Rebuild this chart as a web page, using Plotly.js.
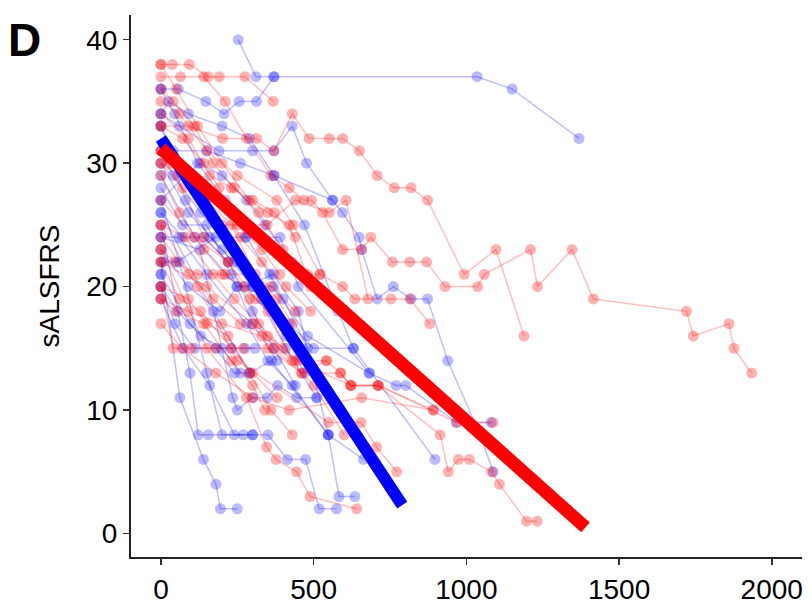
<!DOCTYPE html>
<html>
<head>
<meta charset="utf-8">
<script src="https://cdn.plot.ly/plotly-3.0.1.min.js"></script>
<style>
  body { margin: 0; background: #fff; }
  #plot { width: 812px; height: 607px; }
</style>
</head>
<body>
<div id="plot"></div>
<script>
// each track = one patient, [day, sALSFRS] pairs
var blueTracks = [
    [[253,40],[311,37],[370,37],[1035,37],[1150,36],[1369,32]],
    [[0,36],[57,36],[147,35],[207,34],[256,35],[313,35],[370,37]],
    [[0,34],[60,33],[190,31],[300,31],[370,31],[430,33],[477,30],[562,27],[594,26],[649,24],[657,23],[708,19],[761,20],[819,19],[873,19],[939,14],[1045,8],[1088,5]],
    [[0,33],[40,31],[150,31],[260,30],[370,29],[562,27]],
    [[0,30],[90,26],[200,23],[300,20],[420,17],[500,15],[630,15],[897,6]],
    [[0,29],[110,24],[250,20],[368,20],[480,16],[682,13],[770,12],[802,12],[968,9],[1081,9]],
    [[0,27],[60,22],[150,13],[200,8],[300,8],[351,8],[414,6],[474,6],[518,2],[575,2]],
    [[0,22],[62,11],[139,6],[180,4],[195,2],[250,2]],
    [[0,25],[95,13],[122,8],[155,8],[270,8]],
    [[0,24],[128,23],[235,11],[250,10],[300,11],[348,11],[382,12],[444,11],[510,11]],
    [[0,26],[171,18],[291,13],[362,14],[548,8],[583,3],[635,3]],
    [[0,23],[89,20],[193,18],[248,20],[275,20],[368,21],[450,18],[548,8],[663,6]],
    [[0,20],[46,17],[111,15],[231,15],[275,15],[308,15]],
    [[0,21],[8,22],[51,22],[180,24],[275,24],[390,24],[450,20],[682,13]],
    [[0,19],[73,15],[160,12],[240,8],[300,8]],
    [[0,27],[80,29],[128,30],[200,29],[280,27],[340,25],[430,22]],
    [[0,34],[25,35],[90,34],[200,33],[290,32],[370,29],[470,25],[580,18],[630,15]],
    [[0,36],[45,34],[120,30],[210,27],[280,24],[356,21],[400,19],[480,15]],
    [[0,33],[80,27],[160,24],[240,22],[300,20],[410,15],[510,11]],
    [[0,24],[60,24],[150,21],[280,17],[350,14],[430,12],[548,8]],
    [[0,31],[40,29],[130,26],[260,22],[330,19],[410,16],[470,13]],
    [[0,28],[70,25],[150,25],[230,21],[300,17],[380,14]],
    [[0,21],[95,17],[180,15],[240,13],[291,13]],
    [[0,26],[70,24],[140,24],[220,22],[300,18],[370,15],[440,12]],
    [[0,20],[55,18],[130,16],[200,15],[260,13]]
];

var redTracks = [
    [[0,38],[37,38],[93,38],[155,37],[191,37],[275,37],[368,35]],
    [[0,37],[64,37],[140,37],[210,35],[280,32],[360,29],[420,28],[468,27],[493,27],[529,26],[595,23],[657,23],[687,24],[758,22],[815,22],[870,22],[930,20],[1037,20],[1059,21],[1210,23],[1233,20],[1346,23],[1416,19],[1721,18],[1743,16],[1860,17],[1876,15],[1934,13]],
    [[0,33],[90,33],[202,32],[313,32],[370,31],[430,34],[485,32],[551,32],[595,32],[650,31],[708,29],[764,28],[819,28],[873,27],[993,21],[1097,23],[1189,16]],
    [[0,35],[60,34],[150,31],[250,29],[379,27],[433,25],[521,21],[595,20],[635,19],[753,19],[815,19],[880,17]],
    [[0,31],[60,30],[130,27],[200,25],[348,25],[440,27],[551,26],[606,27],[678,19]],
    [[0,30],[70,28],[140,24],[220,22],[290,19],[350,15],[461,13],[588,13],[622,12],[712,12],[968,9],[1087,9]],
    [[0,23],[150,15],[280,11],[346,7],[377,6],[444,5],[488,3],[641,2]],
    [[0,25],[120,20],[250,14],[548,9],[655,9],[706,7],[772,5]],
    [[0,20],[40,15],[100,15],[180,15],[270,15],[368,15],[461,13],[542,14]],
    [[0,22],[150,20],[300,17],[450,14],[542,14],[588,13],[622,12],[712,12],[892,10]],
    [[0,19],[90,18],[200,17],[330,16],[440,14],[621,12],[710,12],[914,8],[941,5],[974,6],[1010,6],[1083,5],[1108,4],[1197,1],[1232,1]],
    [[0,17],[70,15],[180,13],[300,11],[420,10],[657,11],[892,10]],
    [[0,36],[40,35],[110,33],[170,30],[240,28],[320,26],[400,23],[480,21],[521,21]],
    [[0,38],[50,36],[120,33],[200,30],[290,27],[350,26],[420,25],[490,20]],
    [[0,30],[55,29],[150,27],[230,25],[310,21],[380,19],[430,17]],
    [[0,29],[60,26],[140,23],[210,21],[290,21],[360,20],[440,18]],
    [[0,25],[80,24],[170,21],[240,19],[320,17],[400,15]],
    [[0,23],[45,22],[120,21],[200,21],[270,20],[350,18],[430,14]],
    [[0,22],[60,19],[130,18],[230,15],[300,13],[380,11]],
    [[0,20],[90,19],[150,17],[220,16],[290,13],[360,10],[430,8]],
    [[0,31],[30,30],[100,29],[190,27],[260,24],[330,22],[410,20],[490,18]],
    [[0,19],[50,18],[140,17],[230,14],[300,12],[340,10]],
    [[0,34],[90,32],[160,29],[230,28],[300,27],[372,26],[440,24]],
    [[0,33],[70,32],[140,30],[190,28],[250,25],[330,23],[390,21]],
    [[0,27],[110,24],[220,22],[310,19],[400,17]],
    [[0,24],[90,21],[170,19],[260,17],[350,16],[500,12],[600,8]]
];

// group regression lines
var blueFitDays = [0, 790];
var blueFitScores = [32, 2.3];
var redFitDays = [0, 1390];
var redFitScores = [31.2, 0.5];

var xTicks = [0, 500, 1000, 1500, 2000];
var yTicks = [0, 10, 20, 30, 40];

var blueLine = 'rgba(0,0,255,0.25)';
var bluePoint = 'rgba(0,0,255,0.27)';
var redLine = 'rgba(255,0,0,0.25)';
var redPoint = 'rgba(255,0,0,0.3)';

var makeTrack = function(track, lineCol, pointCol) {
    return {
        x: track.map(function(p) { return p[0]; }),
        y: track.map(function(p) { return p[1]; }),
        type: 'scatter',
        mode: 'lines+markers',
        hoverinfo: 'none',
        showlegend: false,
        line: { color: lineCol, width: 1.5 },
        marker: { color: pointCol, size: 11, line: { width: 0 } },
        cliponaxis: false
    };
};

var data = [];
blueTracks.forEach(function(t) { data.push(makeTrack(t, blueLine, bluePoint)); });
redTracks.forEach(function(t) { data.push(makeTrack(t, redLine, redPoint)); });

data.push({
    x: blueFitDays, y: blueFitScores,
    type: 'scatter', mode: 'lines', hoverinfo: 'none', showlegend: false,
    line: { color: 'rgb(0,0,255)', width: 12 }
});
data.push({
    x: redFitDays, y: redFitScores,
    type: 'scatter', mode: 'lines', hoverinfo: 'none', showlegend: false,
    line: { color: 'rgb(255,0,0)', width: 13 }
});

var fontFam = 'Arial, Liberation Sans, sans-serif';
var tickFont = { family: fontFam, size: 28, color: '#000' };

var layout = {
    width: 812,
    height: 607,
    margin: { t: 15, b: 50, l: 131, r: 10 },
    paper_bgcolor: '#fff',
    plot_bgcolor: '#fff',
    xaxis: {
        range: [-98, 2099],
        tickvals: xTicks,
        ticks: 'outside',
        ticklen: 6,
        tickwidth: 1.5,
        tickcolor: '#333',
        showline: true,
        linecolor: '#222',
        linewidth: 2,
        showgrid: false,
        zeroline: false,
        tickfont: tickFont,
        fixedrange: true
    },
    yaxis: {
        range: [-1.9, 42],
        tickvals: yTicks,
        ticks: 'outside',
        ticklen: 6,
        tickwidth: 1.5,
        tickcolor: '#333',
        showline: true,
        linecolor: '#222',
        linewidth: 2,
        showgrid: false,
        zeroline: false,
        tickfont: tickFont,
        title: { text: 'sALSFRS', font: { family: fontFam, size: 28, color: '#000' }, standoff: 18 },
        fixedrange: true
    },
    annotations: [{
        text: '<b>D</b>',
        xref: 'paper', yref: 'paper',
        x: -0.186, y: 1.005,
        xanchor: 'left', yanchor: 'top',
        showarrow: false,
        font: { family: fontFam, size: 46, color: '#000' }
    }]
};

Plotly.newPlot('plot', data, layout, { displayModeBar: false, staticPlot: true });
</script>
</body>
</html>
